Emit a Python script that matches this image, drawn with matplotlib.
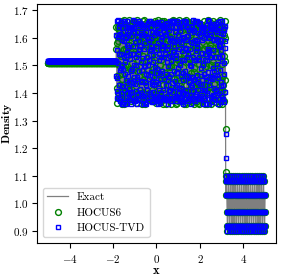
import numpy as np
import matplotlib
matplotlib.use("Agg")
import matplotlib.pyplot as plt

# LaTeX-like look
plt.rcParams['font.family'] = 'serif'
plt.rcParams['font.serif'] = ['cmr10']
plt.rcParams['mathtext.fontset'] = 'cm'
plt.rcParams['axes.formatter.use_mathtext'] = True
plt.rcParams['font.size'] = 8
plt.rcParams['ytick.major.pad'] = 2.5

# grid: 1000 cell centres on [-5, 5]
x = np.linspace(-4.995, 4.995, 1000)

# regions (cell counts)
n_left, n_mid, n_shock, n_right = 314, 503, 2, 181

# pre-shock / left constant state
left_exact = 1.5157
left_hocus6 = 1.507
left_tvd = 1.514

# one stretch of the oscillating post-shock region
mid_exact = [1.51, 1.63, 1.64, 1.52, 1.39, 1.38, 1.49, 1.62, 1.65, 1.55, 1.41, 1.37, 1.46,
             1.60, 1.65, 1.57, 1.43, 1.37, 1.44, 1.58, 1.65, 1.59, 1.45, 1.37, 1.42, 1.56,
             1.65, 1.61, 1.47, 1.38, 1.40, 1.54, 1.64, 1.62, 1.49, 1.39, 1.39, 1.52, 1.64,
             1.63, 1.51, 1.40, 1.38, 1.50, 1.63, 1.64, 1.53, 1.41, 1.37, 1.48, 1.62, 1.65, 1.55]
mid_hocus6 = [1.55, 1.65, 1.60, 1.45, 1.37, 1.42, 1.57, 1.65, 1.58, 1.41, 1.37, 1.50, 1.64,
              1.62, 1.47, 1.37, 1.44, 1.60, 1.65, 1.53, 1.39, 1.38, 1.52, 1.65, 1.61, 1.44,
              1.37, 1.46, 1.62, 1.65, 1.50, 1.38, 1.40, 1.56, 1.65, 1.57, 1.42, 1.37, 1.48,
              1.63, 1.64, 1.49, 1.37, 1.41, 1.58, 1.65, 1.55, 1.40, 1.37, 1.53, 1.65, 1.60, 1.45]
mid_tvd = [1.47, 1.60, 1.65, 1.56, 1.42, 1.37, 1.45, 1.61, 1.65, 1.52, 1.39, 1.38, 1.53,
           1.65, 1.60, 1.44, 1.37, 1.47, 1.62, 1.64, 1.50, 1.38, 1.40, 1.55, 1.65, 1.58,
           1.43, 1.37, 1.49, 1.63, 1.63, 1.47, 1.37, 1.42, 1.59, 1.65, 1.54, 1.40, 1.38,
           1.51, 1.64, 1.61, 1.46, 1.37, 1.44, 1.60, 1.65, 1.53, 1.39, 1.39, 1.56, 1.65, 1.57]

# small cell-to-cell deviations (different lengths so the stretch never repeats exactly)
dev_exact = [0.004, -0.007, 0.010, -0.002, 0.006, -0.010, 0.001, 0.008, -0.005,
             0.010, -0.009, 0.003, -0.004, 0.009, -0.010, 0.005, -0.001]
dev_hocus6 = [0.009, -0.011, 0.004, 0.012, -0.008, -0.003, 0.010, -0.012, 0.007, -0.010,
              0.011, 0.002, -0.009, 0.006, -0.006, 0.012, -0.010, 0.001, -0.012]
dev_tvd = [-0.010, 0.008, 0.011, -0.004, -0.012, 0.010, 0.003, -0.009, 0.012, -0.011, 0.006,
           -0.001, 0.010, -0.011, 0.009, -0.012, 0.002, 0.011, -0.007, 0.009, -0.010, 0.005,
           -0.002]

# cells inside the shock
shock_exact = [1.40, 1.031]
shock_hocus6 = [1.27, 1.114]
shock_tvd = [1.25, 1.166]

# one period of the unperturbed entropy wave ahead of the shock
right_period = [1.031, 1.081, 1.100, 1.081, 1.031, 0.969, 0.919, 0.900, 0.919, 0.969]


def build(left, mid, dev, shock, right):
    middle = np.resize(mid, n_mid) + np.resize(dev, n_mid)
    return np.concatenate([np.full(n_left, left),
                           middle,
                           shock,
                           np.resize(right, n_right)])


rho_exact = build(left_exact, mid_exact, dev_exact, shock_exact, right_period)
rho_hocus6 = build(left_hocus6, mid_hocus6, dev_hocus6, shock_hocus6, right_period)
rho_tvd = build(left_tvd, mid_tvd, dev_tvd, shock_tvd, right_period)

fig, ax = plt.subplots(figsize=(2.83, 2.77), dpi=100)
fig.subplots_adjust(left=0.131, right=0.975, bottom=0.123, top=0.986)

ax.plot(x, rho_exact, color='k', alpha=0.5, lw=0.9, label='Exact', zorder=1)
ax.plot(x, rho_hocus6, 'o', mfc='none', mec='green', ms=4.2, mew=1.0,
        label='HOCUS6', zorder=2)
ax.plot(x, rho_tvd, 's', mfc='none', mec='blue', ms=3.4, mew=1.0,
        label='HOCUS-TVD', zorder=3)

ax.set_ylim(0.857, 1.722)
ax.set_xticks([-4, -2, 0, 2, 4])
ax.set_yticks([0.9, 1.0, 1.1, 1.2, 1.3, 1.4, 1.5, 1.6, 1.7])
ax.set_xlabel(r'$\mathbf{x}$', fontsize=9, labelpad=0)
ax.set_ylabel(r'$\mathbf{Density}$', fontsize=8.5)
ax.yaxis.set_label_coords(-0.095, 0.5)

ax.legend(loc='lower left', fontsize=8, handlelength=1.9)

fig.savefig('out.png', dpi=100)
